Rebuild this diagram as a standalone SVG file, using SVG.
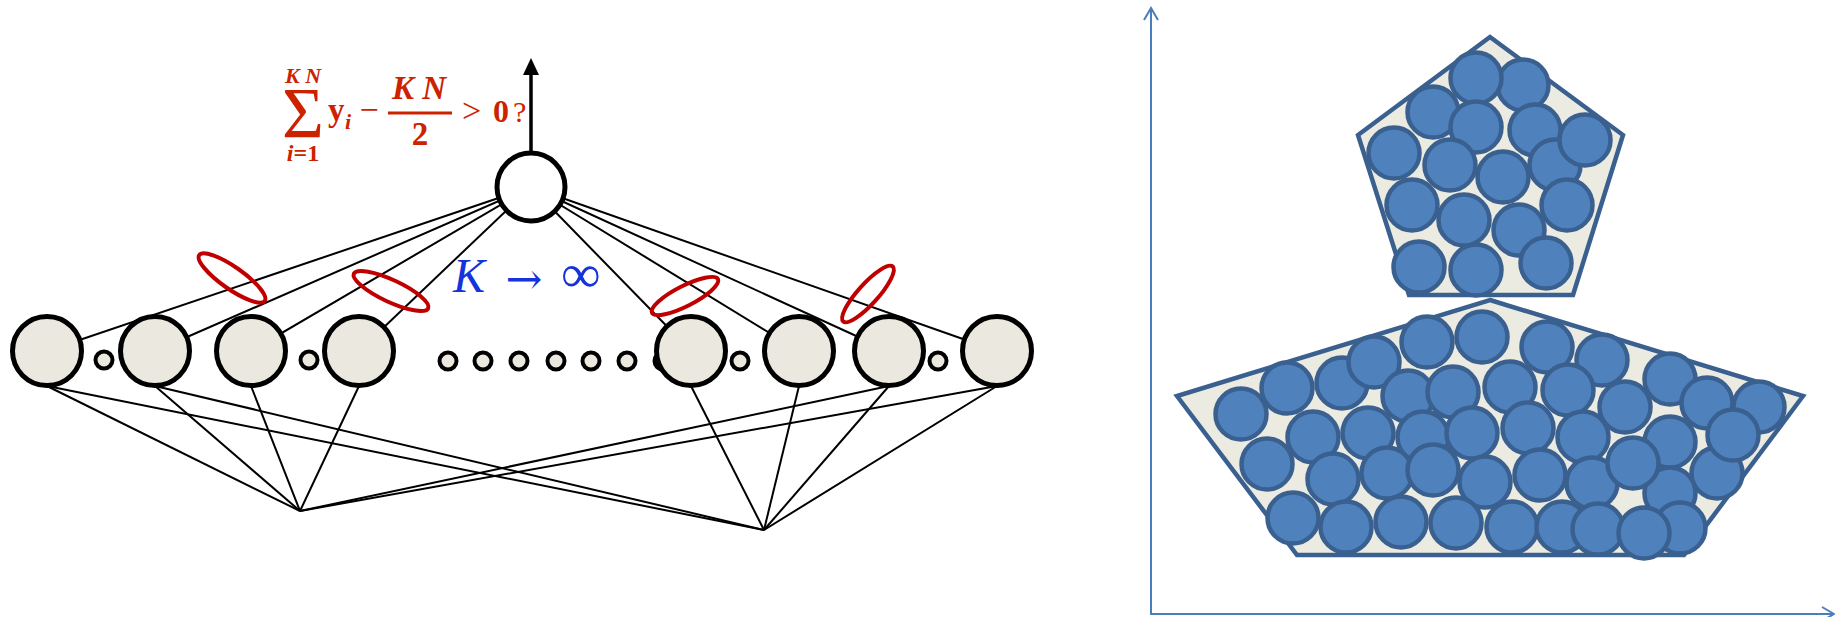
<svg xmlns="http://www.w3.org/2000/svg" width="1835" height="617" viewBox="0 0 1835 617">
<defs>
<style>
.conn line{stroke:#000;stroke-width:2}
.node{fill:#ebe9df;stroke:#000;stroke-width:5}
.dot{fill:#ebe9df;stroke:#000;stroke-width:4}
.ell{fill:none;stroke:#c00000;stroke-width:4}
.ball{fill:#4f81bd;stroke:#3a6090;stroke-width:4.5}
.poly{fill:#ecebe1;stroke:#3a6090;stroke-width:4.5;stroke-linejoin:miter}
.axis{fill:none;stroke:#4a7ebb;stroke-width:2}
.red{fill:#cc2200;font-family:"Liberation Serif",serif}
</style>
</defs>
<rect width="1835" height="617" fill="#fff"/>

<g id="connectors" class="conn">
<line x1="531" y1="187" x2="47" y2="351"/>
<line x1="531" y1="187" x2="155" y2="351"/>
<line x1="531" y1="187" x2="251" y2="351"/>
<line x1="531" y1="187" x2="359" y2="351"/>
<line x1="531" y1="187" x2="691" y2="351"/>
<line x1="531" y1="187" x2="799" y2="351"/>
<line x1="531" y1="187" x2="889" y2="351"/>
<line x1="531" y1="187" x2="997" y2="351"/>
<line x1="47" y1="386" x2="300" y2="511"/>
<line x1="155" y1="386" x2="300" y2="511"/>
<line x1="251" y1="386" x2="300" y2="511"/>
<line x1="359" y1="386" x2="300" y2="511"/>
<line x1="889" y1="386" x2="300" y2="511"/>
<line x1="997" y1="386" x2="300" y2="511"/>
<line x1="47" y1="386" x2="764" y2="530"/>
<line x1="155" y1="386" x2="764" y2="530"/>
<line x1="691" y1="386" x2="764" y2="530"/>
<line x1="799" y1="386" x2="764" y2="530"/>
<line x1="889" y1="386" x2="764" y2="530"/>
<line x1="997" y1="386" x2="764" y2="530"/>
<line x1="531" y1="152" x2="531" y2="72" style="stroke-width:3.5"/>
<polygon points="531,58 523,75 539,75" fill="#000"/>
</g>

<g id="dots">
<circle class="dot" cx="448" cy="361" r="8.5"/>
<circle class="dot" cx="483" cy="361" r="8.5"/>
<circle class="dot" cx="519" cy="361" r="8.5"/>
<circle class="dot" cx="556" cy="361" r="8.5"/>
<circle class="dot" cx="591" cy="361" r="8.5"/>
<circle class="dot" cx="627" cy="361" r="8.5"/>
<circle class="dot" cx="663" cy="361" r="8.5"/>
<circle class="dot" cx="104" cy="360" r="8.5"/>
<circle class="dot" cx="309" cy="360" r="8.5"/>
<circle class="dot" cx="740" cy="361" r="8.5"/>
<circle class="dot" cx="938" cy="361" r="8.5"/>
</g>

<g id="node-out"><circle cx="531" cy="187" r="34" fill="#fff" stroke="#000" stroke-width="5"/></g>
<g id="node-1"><circle class="node" cx="47" cy="351" r="34.5"/></g>
<g id="node-2"><circle class="node" cx="155" cy="351" r="34.5"/></g>
<g id="node-3"><circle class="node" cx="251" cy="351" r="34.5"/></g>
<g id="node-4"><circle class="node" cx="359" cy="351" r="34.5"/></g>
<g id="node-5"><circle class="node" cx="691" cy="351" r="34.5"/></g>
<g id="node-6"><circle class="node" cx="799" cy="351" r="34.5"/></g>
<g id="node-7"><circle class="node" cx="889" cy="351" r="34.5"/></g>
<g id="node-8"><circle class="node" cx="997" cy="351" r="34.5"/></g>

<g id="rings">
<ellipse class="ell" cx="232" cy="278" rx="40" ry="11" transform="rotate(35 232 278)"/>
<ellipse class="ell" cx="391" cy="291" rx="41" ry="11" transform="rotate(25 391 291)"/>
<ellipse class="ell" cx="685" cy="296" rx="37" ry="10" transform="rotate(-27 685 296)"/>
<ellipse class="ell" cx="868" cy="294" rx="37" ry="10" transform="rotate(-48 868 294)"/>
</g>

<g id="formula" class="red">
<text x="303" y="137" font-size="72" text-anchor="middle">Σ</text>
<text x="303" y="83" font-size="22" font-weight="bold" font-style="italic" text-anchor="middle">K N</text>
<text x="303" y="161" font-size="24" font-weight="bold" text-anchor="middle"><tspan font-style="italic">i</tspan>=1</text>
<text x="328" y="121" font-size="33" font-weight="bold">y</text>
<text x="345" y="129" font-size="22" font-weight="bold" font-style="italic">i</text>
<text x="369" y="121" font-size="34" text-anchor="middle">−</text>
<line x1="388" y1="113" x2="452" y2="113" stroke="#cc2200" stroke-width="3"/>
<text x="419" y="99" font-size="33" font-weight="bold" font-style="italic" text-anchor="middle">K N</text>
<text x="420" y="145" font-size="33" font-weight="bold" text-anchor="middle">2</text>
<text x="462" y="122" font-size="34">&gt;</text>
<text x="493" y="122" font-size="32" font-weight="bold">0</text>
<text x="513" y="122" font-size="30">?</text>
</g>

<g id="limit" fill="#1433dc">
<text x="453" y="292" font-size="48" font-style="italic" font-family="Liberation Serif,serif">K</text>
<text x="524" y="294" font-size="44" text-anchor="middle" font-family="DejaVu Serif,serif">→</text>
<text x="581" y="292" font-size="54" font-weight="bold" text-anchor="middle" font-family="Liberation Serif,serif">∞</text>
</g>

<g id="axes" class="axis">
<line x1="1151" y1="8" x2="1151" y2="614"/>
<line x1="1150" y1="614" x2="1834" y2="614"/>
<polyline points="1144,20 1151,8 1158,20"/>
<polyline points="1822,607 1834,614 1822,621"/>
</g>

<g id="bottom-shape">
<polygon class="poly" points="1490,300 1803,396 1684,555 1297,555 1177,396"/>
<circle class="ball" cx="1241" cy="414" r="25.5"/>
<circle class="ball" cx="1287" cy="388" r="25.5"/>
<circle class="ball" cx="1342" cy="383" r="25.5"/>
<circle class="ball" cx="1374" cy="362" r="25.5"/>
<circle class="ball" cx="1427" cy="342" r="25.5"/>
<circle class="ball" cx="1482" cy="337" r="25.5"/>
<circle class="ball" cx="1547" cy="347" r="25.5"/>
<circle class="ball" cx="1602" cy="360" r="25.5"/>
<circle class="ball" cx="1670" cy="379" r="25.5"/>
<circle class="ball" cx="1408" cy="396" r="25.5"/>
<circle class="ball" cx="1453" cy="392" r="25.5"/>
<circle class="ball" cx="1510" cy="387" r="25.5"/>
<circle class="ball" cx="1568" cy="390" r="25.5"/>
<circle class="ball" cx="1625" cy="407" r="25.5"/>
<circle class="ball" cx="1707" cy="403" r="25.5"/>
<circle class="ball" cx="1759" cy="407" r="25.5"/>
<circle class="ball" cx="1423" cy="437" r="25.5"/>
<circle class="ball" cx="1717" cy="473" r="25.5"/>
<circle class="ball" cx="1313" cy="437" r="25.5"/>
<circle class="ball" cx="1368" cy="433" r="25.5"/>
<circle class="ball" cx="1472" cy="433" r="25.5"/>
<circle class="ball" cx="1528" cy="428" r="25.5"/>
<circle class="ball" cx="1583" cy="437" r="25.5"/>
<circle class="ball" cx="1670" cy="442" r="25.5"/>
<circle class="ball" cx="1733" cy="435" r="25.5"/>
<circle class="ball" cx="1267" cy="464" r="25.5"/>
<circle class="ball" cx="1333" cy="479" r="25.5"/>
<circle class="ball" cx="1387" cy="473" r="25.5"/>
<circle class="ball" cx="1433" cy="470" r="25.5"/>
<circle class="ball" cx="1485" cy="482" r="25.5"/>
<circle class="ball" cx="1540" cy="475" r="25.5"/>
<circle class="ball" cx="1592" cy="483" r="25.5"/>
<circle class="ball" cx="1670" cy="493" r="25.5"/>
<circle class="ball" cx="1633" cy="463" r="25.5"/>
<circle class="ball" cx="1293" cy="518" r="25.5"/>
<circle class="ball" cx="1346" cy="527" r="25.5"/>
<circle class="ball" cx="1401" cy="522" r="25.5"/>
<circle class="ball" cx="1456" cy="523" r="25.5"/>
<circle class="ball" cx="1512" cy="527" r="25.5"/>
<circle class="ball" cx="1562" cy="527" r="25.5"/>
<circle class="ball" cx="1598" cy="529" r="25.5"/>
<circle class="ball" cx="1680" cy="528" r="25.5"/>
<circle class="ball" cx="1644" cy="533" r="25.5"/>
</g>

<g id="top-pentagon">
<polygon class="poly" points="1490,37 1623,135 1573,295 1409,295 1358,135"/>
<circle class="ball" cx="1523" cy="85" r="25.5"/>
<circle class="ball" cx="1476" cy="78" r="25.5"/>
<circle class="ball" cx="1433" cy="112" r="25.5"/>
<circle class="ball" cx="1535" cy="130" r="25.5"/>
<circle class="ball" cx="1476" cy="127" r="25.5"/>
<circle class="ball" cx="1394" cy="153" r="25.5"/>
<circle class="ball" cx="1450" cy="165" r="25.5"/>
<circle class="ball" cx="1503" cy="177" r="25.5"/>
<circle class="ball" cx="1555" cy="165" r="25.5"/>
<circle class="ball" cx="1585" cy="140" r="25.5"/>
<circle class="ball" cx="1412" cy="205" r="25.5"/>
<circle class="ball" cx="1464" cy="220" r="25.5"/>
<circle class="ball" cx="1519" cy="230" r="25.5"/>
<circle class="ball" cx="1567" cy="205" r="25.5"/>
<circle class="ball" cx="1419" cy="267" r="25.5"/>
<circle class="ball" cx="1476" cy="270" r="25.5"/>
<circle class="ball" cx="1546" cy="263" r="25.5"/>
</g>
</svg>
